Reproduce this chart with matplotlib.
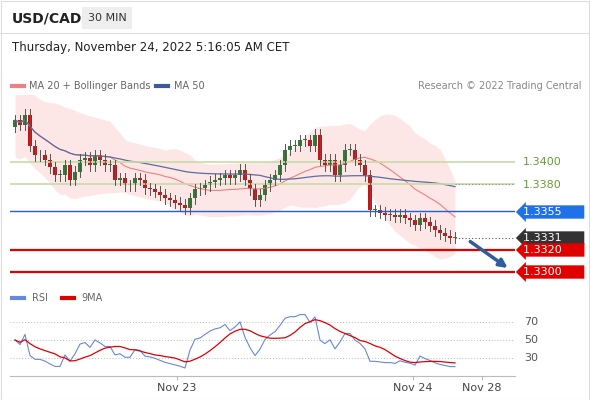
import numpy as np, pandas as pd
import matplotlib
matplotlib.use("Agg")
import matplotlib.pyplot as plt
from matplotlib.patches import Rectangle

closes = [1.3438,1.3434,1.3443,1.3415,1.3406,1.3406,1.3402,1.3395,1.3388,1.3388,1.3397,1.3384,1.3391,1.3402,1.3404,
1.3397,1.3406,1.3402,1.3397,1.3397,1.3384,1.3385,1.3379,1.3379,1.3385,1.3384,1.3376,1.3375,1.3373,1.3370,
1.3367,1.3365,1.3363,1.3361,1.3358,1.3367,1.3375,1.3376,1.3379,1.3382,1.3384,1.3385,1.3388,1.3385,1.3388,
1.3393,1.3384,1.3375,1.3365,1.3370,1.3379,1.3384,1.3388,1.3397,1.3411,1.3415,1.3415,1.3420,1.3420,1.3415,
1.3425,1.3402,1.3397,1.3402,1.3388,1.3397,1.3411,1.3411,1.3402,1.3397,1.3388,1.3356,1.3356,1.3354,1.3352,
1.3352,1.3350,1.3352,1.3349,1.3347,1.3343,1.3349,1.3345,1.3342,1.3338,1.3335,1.3333,1.3331,1.3331]
first_open = 1.3432
wick = 0.0005
levels = [1.3400, 1.3380, 1.3355, 1.3320, 1.3300]
last_price = 1.3331
date_ticks = [32.4, 79.6, 93.4]
date_labels = ["Nov 23", "Nov 24", "Nov 28"]

c = pd.Series(closes)
o = pd.Series([first_open] + closes[:-1])
n = len(c)
idx = np.arange(n)
ma20 = c.rolling(20, min_periods=1).mean()
sd20 = c.rolling(20, min_periods=6).std().bfill()
sd20 = np.maximum(sd20, 0.0012)
ma50 = c.rolling(50, min_periods=1).mean()
d = c.diff().fillna(0).values
ag, al = 0.00025, 0.00025
rsi = []
for v in d:
    ag = (ag*8 + max(v, 0))/9
    al = (al*8 + max(-v, 0))/9
    rsi.append(100 - 100/(1 + ag/al))
rsi = pd.Series(rsi)
rsi9 = rsi.rolling(9, min_periods=1).mean()

W, H = 590, 400
fig = plt.figure(figsize=(5.9, 4), dpi=100)
fig.patch.set_facecolor("white")
def fx(px): return px / W
def fy(py): return 1 - py / H

ax = fig.add_axes([fx(10), fy(285), fx(505), fy(95) - fy(285)])
ax.set_xlim(-1, 100); ax.set_ylim(1.3288, 1.3461)
ax.axis("off")
ax.fill_between(idx, ma20 + 2*sd20, ma20 - 2*sd20, color="#fde0e0", alpha=0.8, lw=0)
ax.plot(idx, ma20, color="#f08080", lw=0.8)
ax.plot(idx, ma50, color="#5a6ea0", lw=0.9)
for lv in levels[:2]:
    ax.axhline(lv, color="#c8dca8", lw=1.2)
ax.axhline(levels[2], color="#2060e0", lw=1)
ax.axhline(levels[3], color="#e00000", lw=1.6)
ax.axhline(levels[4], color="#e00000", lw=1.6)
ax.plot([n-1, 100], [last_price]*2, color="#555", lw=0.8, ls=(0, (1, 2)))
ax.plot([n-1, 100], [levels[1]]*2, color="#888", lw=0.8, ls=(0, (1, 2)))
for i in range(n):
    oo, cc = o[i], c[i]
    col = "#2e7d32" if cc >= oo else "#d01010"
    ax.plot([i, i], [min(oo, cc) - wick, max(oo, cc) + wick], color="#555", lw=0.7)
    ax.add_patch(Rectangle((i-0.35, min(oo, cc)), 0.7, max(abs(cc-oo), 0.00008), color=col, lw=0))
ax.annotate("", xy=(99, 1.3302), xytext=(90.6, 1.3329),
            arrowprops=dict(arrowstyle="-|>", color="#2f5d9e", lw=2.5, mutation_scale=12))

def lab(py, txt, fc, tc):
    fig.text(fx(523), fy(py), txt + ("      " if fc else ""), fontsize=8, color=tc, va="center", ha="left",
             bbox=dict(boxstyle="larrow,pad=0.15", fc=fc, ec="none") if fc else None)
lab(162, "1.3400", None, "#6a9a30"); lab(185, "1.3380", None, "#6a9a30")
lab(212, "1.3355", "#2070e8", "white"); lab(238, "1.3331", "#333333", "white")
lab(250, "1.3320", "#e00000", "white"); lab(272, "1.3300", "#e00000", "white")

ar = fig.add_axes([fx(10), fy(375), fx(505), fy(290) - fy(375)])
ar.set_xlim(-1, 100); ar.set_ylim(30 - 40*(375-358)/36, 70 + 40*(322-290)/36)
ar.axis("off")
for v in (70, 50, 30):
    ar.axhline(v, color="#bbb", lw=0.7, ls=(0, (1, 2)))
    fig.text(fx(524), fy(322 + (70-v)*36/40), str(v), fontsize=8, color="#555", va="center")
ar.plot(idx, rsi, color="#6688dd", lw=0.8)
ar.plot(idx, rsi9, color="#e00000", lw=0.9)

axx = fig.add_axes([fx(10), fy(376), fx(505), 0.001])
axx.set_xlim(-1, 100)
axx.set_xticks(date_ticks); axx.set_xticklabels(date_labels, fontsize=8, color="#444")
axx.set_yticks([])
for s in ("top", "right"): axx.spines[s].set_visible(False)
axx.spines["left"].set_color("#bbb"); axx.spines["bottom"].set_color("#bbb")
axx.tick_params(length=3, color="#bbb", pad=2)

fig.text(fx(12), fy(18), "USD/CAD", fontsize=10, fontweight="bold", color="#222", va="center")
fig.text(fx(88), fy(18), "30 MIN", fontsize=8, color="#333", va="center",
         bbox=dict(boxstyle="square,pad=0.5", fc="#eeeeee", ec="none"))
fig.add_artist(plt.Line2D([0, 1], [fy(33), fy(33)], color="#ddd", lw=0.8))
fig.text(fx(12), fy(48), "Thursday, November 24, 2022 5:16:05 AM CET", fontsize=8.5, color="#222", va="center")
fig.add_artist(plt.Line2D([fx(12), fx(24)], [fy(86)]*2, color="#f08080", lw=3))
fig.text(fx(29), fy(86), "MA 20 + Bollinger Bands", fontsize=7, color="#666", va="center")
fig.add_artist(plt.Line2D([fx(156), fx(168)], [fy(86)]*2, color="#3a5a9a", lw=3))
fig.text(fx(174), fy(86), "MA 50", fontsize=7, color="#666", va="center")
fig.text(fx(581), fy(86), "Research © 2022 Trading Central", fontsize=7, color="#888", va="center", ha="right")
fig.add_artist(plt.Line2D([fx(12), fx(24)], [fy(298)]*2, color="#6688dd", lw=3))
fig.text(fx(32), fy(298), "RSI", fontsize=7, color="#666", va="center")
fig.add_artist(plt.Line2D([fx(62), fx(74)], [fy(298)]*2, color="#e00000", lw=3))
fig.text(fx(81), fy(298), "9MA", fontsize=7, color="#666", va="center")
fig.add_artist(Rectangle((0.001, 0.001), 0.997, 0.997, transform=fig.transFigure, fill=False, ec="#ddd", lw=0.8))
fig.savefig("out.png", dpi=100)
